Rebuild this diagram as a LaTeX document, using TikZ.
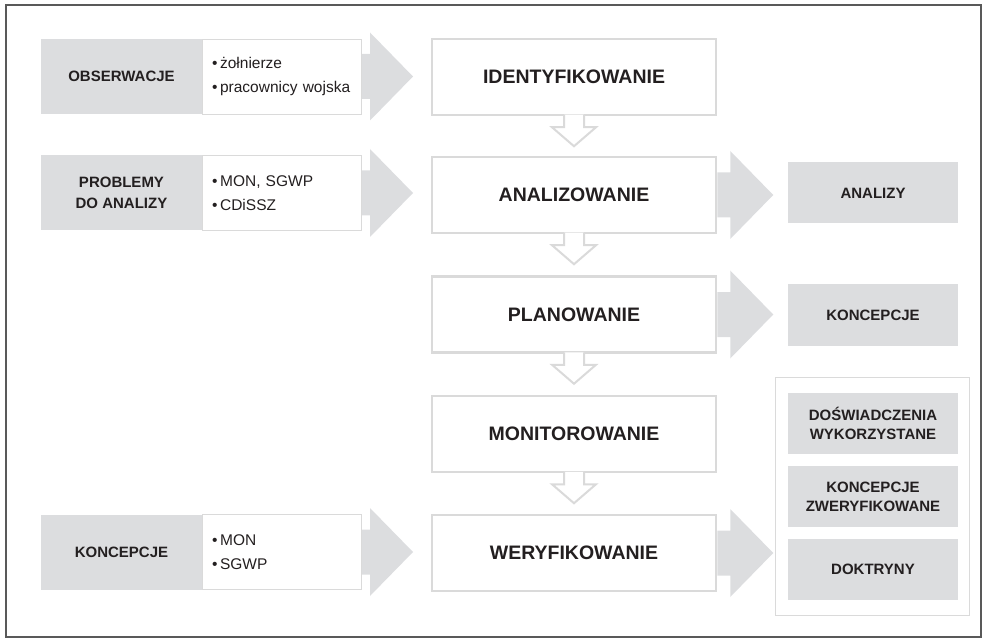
\documentclass[tikz,border=0pt]{standalone}
\usepackage{fontspec}
\setmainfont{Liberation Sans}
\usetikzlibrary{positioning}
\definecolor{boxgray}{RGB}{220,221,223}
\definecolor{linegray}{RGB}{218,218,218}
\definecolor{inkblack}{RGB}{35,31,32}

\begin{document}
\begin{tikzpicture}[x=1pt,y=-1pt,
   every node/.style={text=inkblack},
   stage/.style={draw=linegray,line width=2.5pt,fill=white,minimum width=284pt,
     minimum height=76pt,font=\fontsize{19.5}{22}\selectfont\bfseries},
   source/.style={fill=boxgray,minimum width=161pt,minimum height=75pt,align=center,
     inner sep=0pt,font=\fontsize{15}{20.5}\selectfont\bfseries},
   members/.style={draw=linegray,line width=0.8pt,fill=white,text width=140pt,
     inner xsep=9.5pt,minimum height=75pt,align=left,font=\fontsize{15.5}{24}\selectfont},
   result/.style={fill=boxgray,minimum width=170pt,minimum height=61pt,align=center,
     inner sep=0pt,font=\fontsize{15}{19}\selectfont\bfseries},
   downarrow/.style={draw=linegray,line width=2pt,fill=white}]
  \useasboundingbox (0,0) rectangle (983,639);
  \draw[line width=1.2pt,black!65] (6,5) rectangle (981,637);

  % main column
  \node[stage] (ident) at (574,77) {IDENTYFIKOWANIE};
  \node[stage] (anal)  at (574,195) {ANALIZOWANIE};
  \node[stage] (plan)  at (574,314.5) {PLANOWANIE};
  \node[stage] (monit) at (574,434) {MONITOROWANIE};
  \node[stage] (weryf) at (574,553) {WERYFIKOWANIE};

  % inputs
  \node[source] (obs) at (121.5,76.5) {OBSERWACJE};
  \node[members,right=0pt of obs] (obsl) {•\,żołnierze\\•\,pracownicy wojska};
  \node[source] (prob) at (121.5,193) {PROBLEMY\\DO ANALIZY};
  \node[members,right=0pt of prob] (probl) {•\,MON, SGWP\\•\,CDiSSZ};
  \node[source] (konc) at (121.5,552) {KONCEPCJE};
  \node[members,right=0pt of konc] (koncl) {•\,MON\\•\,SGWP};

  % outputs
  \node[result] (analizy)   at (873,193) {ANALIZY};
  \node[result] (koncepcje) at (873,315) {KONCEPCJE};
  \node[draw=linegray,line width=1pt,minimum width=194pt,minimum height=238pt,
        inner sep=0pt] (grp) at (872,496) {};
  \node[result] (dosw)   at (873,423) {DOŚWIADCZENIA\\WYKORZYSTANE};
  \node[result] (konczw) at (873,496.5) {KONCEPCJE\\ZWERYFIKOWANE};
  \node[result] (dokt)   at (873,569.5) {DOKTRYNY};

  \foreach \from/\stem in {obsl/8,probl/8,koncl/8,anal/13,plan/13,weryf/13}
    \fill[boxgray] (\from.east) ++(0,-22.5) -- ++(\stem,0) -- ++(0,-21.5)
      -- ++(43,44) -- ++(-43,44) -- ++(0,-21.5) -- ++(-\stem,0) -- cycle;

  \foreach \a in {ident,anal,plan,monit}
    \filldraw[downarrow] (\a.south) ++(-10,-1.5) -- ++(0,12.5) -- ++(-12,0)
      -- ++(22,19) -- ++(22,-19) -- ++(-12,0) -- ++(0,-12.5);
\end{tikzpicture}
\end{document}
